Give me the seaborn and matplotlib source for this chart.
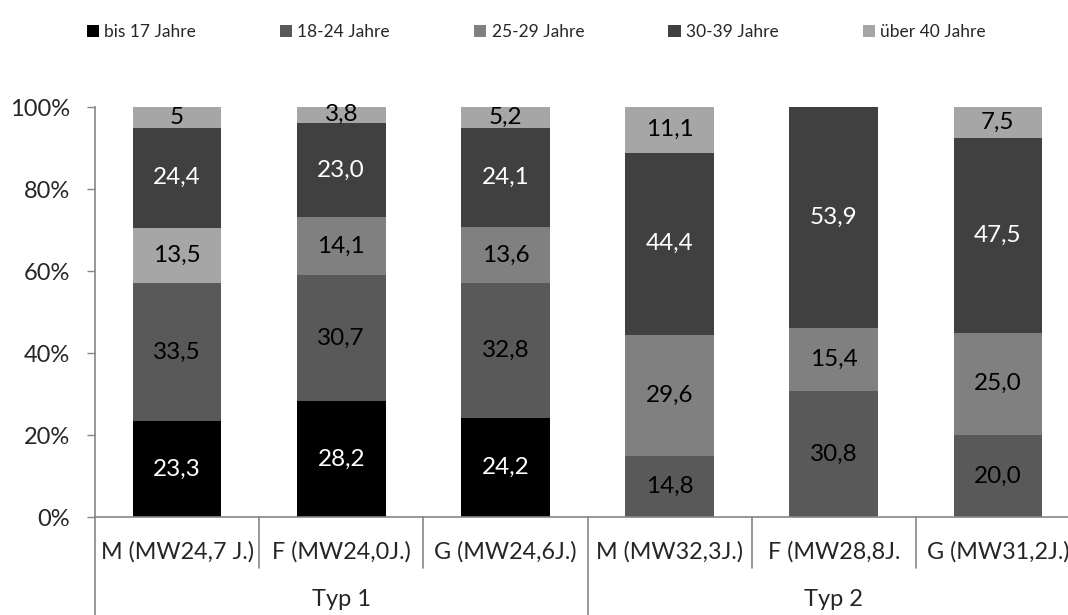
import numpy as np
import pandas as pd
import matplotlib
matplotlib.use("Agg")
import matplotlib.pyplot as plt
import matplotlib.patches as mpatches
import seaborn as sns

# data (percent per age group)
categories = ["M (MW24,7 J.)", "F (MW24,0J.)", "G (MW24,6J.)",
              "M (MW32,3J.)", "F (MW28,8J.", "G (MW31,2J.)"]
groups = ["Typ 1", "Typ 2"]
age_groups = ["bis 17 Jahre", "18-24 Jahre", "25-29 Jahre", "30-39 Jahre", "über 40 Jahre"]
bis17 = [23.3, 28.2, 24.2, 0, 0, 0]
j18_24 = [33.5, 30.7, 32.8, 14.8, 30.8, 20.0]
j25_29 = [13.5, 14.1, 13.6, 29.6, 15.4, 25.0]
j30_39 = [24.4, 23.0, 24.1, 44.4, 53.9, 47.5]
ueber40 = [5, 3.8, 5.2, 11.1, 0, 7.5]

colors = ["#000000", "#595959", "#808080", "#404040", "#A6A6A6"]
label_colors = ["white", "black", "black", "white", "black"]

sns.set_style("white")
plt.rcParams["font.family"] = ["Lato", "DejaVu Sans"]

series = [bis17, j18_24, j25_29, j30_39, ueber40]
raw = np.array(series, dtype=float)
totals = raw.sum(axis=0)

fig = plt.figure(figsize=(10.68, 6.15), dpi=100)
ax = fig.add_axes([95 / 1068, 98 / 615, 985 / 1068, 410 / 615])

bottom = np.zeros(len(categories))
for i, (name, vals) in enumerate(zip(age_groups, series)):
    pct = raw[i] / totals * 100
    df = pd.DataFrame({"cat": categories, "pct": pct})
    sns.barplot(data=df, x="cat", y="pct", order=categories, color=colors[i],
                saturation=1, errorbar=None, width=0.54, bottom=bottom,
                linewidth=0, ax=ax)
    cont = ax.containers[-1]
    labels = [str(v).replace(".", ",") if v > 0 else "" for v in vals]
    texts = ax.bar_label(cont, labels=labels, label_type="center", fontsize=17.5)
    for t in texts:
        t.set_color(label_colors[i])
    bottom = bottom + pct

# first bar's 25-29 segment is drawn in the light grey in the original
ax.containers[2][0].set_facecolor("#A6A6A6")

ax.set_xlim(-0.5, 5.5)
ax.set_ylim(0, 100)
ax.set_yticks([0, 20, 40, 60, 80, 100])
ax.set_yticklabels([f"{v}%" for v in [0, 20, 40, 60, 80, 100]], fontsize=17)
ax.set_xlabel("")
ax.set_ylabel("")
ax.set_xticks(range(len(categories)))
ax.set_xticklabels(categories, fontsize=16.8)
ax.tick_params(axis="x", length=0, pad=17)
ax.tick_params(axis="y", length=6, width=1, color="#868686", left=True, pad=12)

for s in ["top", "right"]:
    ax.spines[s].set_visible(False)
for s in ["left", "bottom"]:
    ax.spines[s].set_color("#868686")
    ax.spines[s].set_linewidth(1.2)

# multi-level category axis separators
trans = ax.get_xaxis_transform()
for x in [0.5, 1.5, 3.5, 4.5]:
    ax.plot([x, x], [0, -0.124], transform=trans, color="#868686", lw=1.2, clip_on=False)
for x in [-0.5, 2.5]:
    ax.plot([x, x], [0, -0.24], transform=trans, color="#868686", lw=1.2, clip_on=False)
ax.text(1, -0.2, groups[0], transform=trans, ha="center", va="center", fontsize=17)
ax.text(4, -0.2, groups[1], transform=trans, ha="center", va="center", fontsize=17)

handles = [mpatches.Patch(facecolor=c, edgecolor="none") for c in colors]
fig.legend(handles, age_groups, loc="center left", bbox_to_anchor=(71 / 1068, 1 - 32 / 615),
           ncol=5, frameon=False, fontsize=12.5, handlelength=0.7, handleheight=0.7,
           handletextpad=0.3, columnspacing=4.85)

fig.savefig("out.png", dpi=100)
